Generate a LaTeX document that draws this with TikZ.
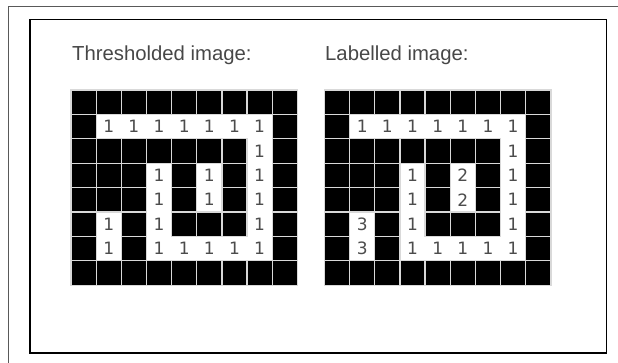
\documentclass[tikz,border=0pt]{standalone}
\usepackage{fontspec}
\setmainfont{Liberation Sans}
\newfontfamily\cellfont{DejaVu Sans}
\begin{document}
\begin{tikzpicture}[x=1pt, y=-1pt,
  pix/.style={rectangle, inner sep=0pt, outer sep=0pt, minimum width=25.15pt, minimum height=24.4pt},
  off/.style={pix, fill=black, draw=gray!30, line width=1.3pt},
  on/.style={pix, text=black!70, font=\cellfont\fontsize{17}{17}\selectfont},
  caption/.style={anchor=base west, inner sep=0pt, text=black!72, font=\fontsize{20.3}{24}\selectfont}]
\useasboundingbox (0,0) rectangle (618,363);
\draw[black!65, line width=1pt] (8,363) -- (8,7) -- (618,7);
\draw[line width=1.5pt] (30,19.5) rectangle (606.5,353);
\node[caption] (thr-title) at (72,61) {Thresholded image:};
\node[caption] (lab-title) at (325,61) {Labelled image:};
\foreach \grid/\gx in {thr/71, lab/324.5}{
  \foreach \rowvals [count=\r from 0] in {{0,0,0,0,0,0,0,0,0},{0,1,1,1,1,1,1,1,0},{0,0,0,0,0,0,0,1,0},{0,0,0,1,0,2,0,1,0},
      {0,0,0,1,0,2,0,1,0},{0,3,0,1,0,0,0,1,0},{0,3,0,1,1,1,1,1,0},{0,0,0,0,0,0,0,0,0}}{
    \foreach \v [count=\c from 0] in \rowvals{
      \ifnum\v=0
        \node[off] (\grid-\r-\c) at ({\gx+(\c+0.5)*25.15},{90+(\r+0.5)*24.4}) {};
      \else
        \node[on] (\grid-\r-\c) at ({\gx+(\c+0.5)*25.15},{90+(\r+0.5)*24.4}) {\ifdim\gx pt<100pt 1\else\v\fi};
      \fi
    }
  }
}
\end{tikzpicture}
\end{document}
